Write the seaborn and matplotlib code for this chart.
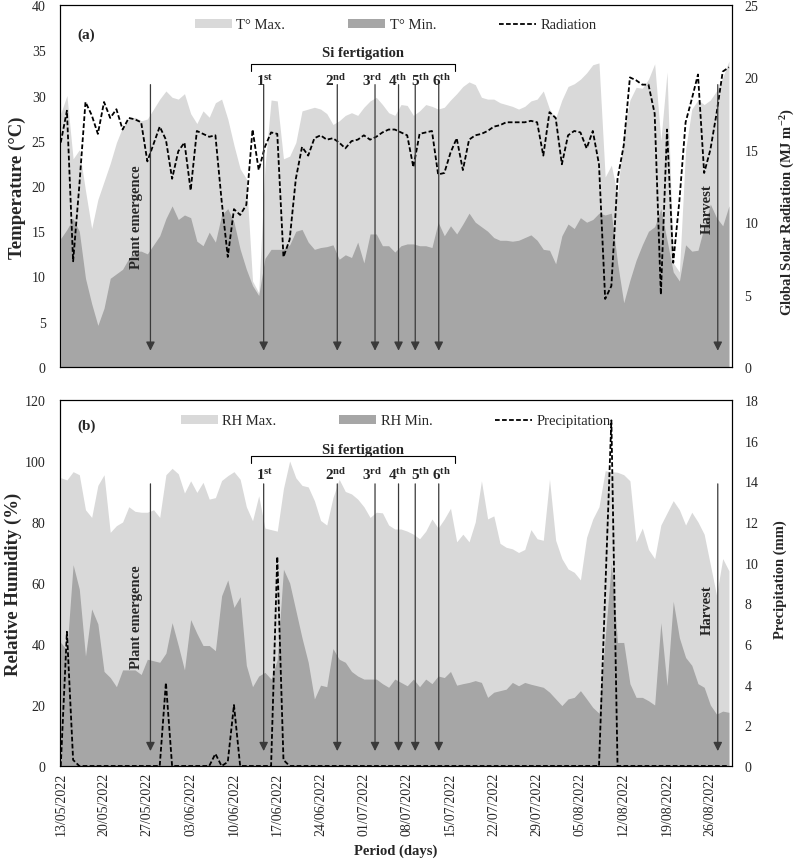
import numpy as np
import pandas as pd
import matplotlib
matplotlib.use("Agg")
import matplotlib.pyplot as plt
from matplotlib.patches import Patch
from matplotlib.lines import Line2D
import seaborn as sns

# ---------------- data (daily, 13/05/2022 -> 29/08/2022) ----------------
start_date = "2022-05-13"

t_max = [28.0, 30.0, 23.0, 24.0, 19.5, 15.3, 18.5, 20.5, 22.5, 24.8,
         26.5, 27.4, 27.6, 27.2, 27.4, 28.5, 29.6, 30.5, 29.8, 29.6,
         30.2, 28.0, 26.9, 28.3, 27.6, 29.2, 29.6, 27.4, 24.5, 21.9,
         20.8, 9.5, 8.2, 22.0, 29.5, 29.4, 23.0, 23.3, 24.8, 28.3,
         28.5, 28.7, 28.5, 28.0, 26.8, 27.2, 27.8, 28.1, 27.8, 28.7,
         29.4, 29.8, 29.0, 28.1, 27.8, 29.0, 28.9, 27.8, 28.3, 29.0,
         28.8, 28.5, 28.7, 29.5, 30.2, 31.0, 31.5, 31.2, 29.8, 29.6,
         29.6, 29.2, 29.0, 28.8, 28.5, 28.8, 29.4, 29.6, 30.5, 28.5,
         27.5, 29.5, 31.0, 31.3, 31.8, 32.5, 33.4, 33.6, 21.0, 22.3,
         19.0, 26.0, 29.5, 30.9, 30.8, 31.8, 33.5, 25.0, 32.6, 11.5,
         10.5, 24.0, 28.5, 29.5, 29.0, 29.5, 30.5, 32.0, 33.8]

t_min = [14.2, 15.2, 16.4, 15.0, 9.8, 7.0, 4.6, 6.5, 9.8, 10.3,
         10.8, 12.0, 12.8, 12.8, 12.5, 13.5, 14.5, 16.4, 17.8, 16.3,
         16.8, 16.5, 13.9, 13.4, 14.9, 13.8, 16.8, 17.5, 16.0, 13.0,
         10.8, 9.0, 7.9, 12.0, 13.0, 13.0, 13.0, 13.5, 15.0, 15.2,
         13.8, 13.0, 13.2, 13.3, 13.5, 11.9, 12.4, 12.1, 13.8, 11.5,
         14.7, 14.7, 13.4, 13.4, 12.7, 13.4, 13.6, 13.6, 13.4, 13.4,
         13.2, 16.0, 14.5, 15.6, 14.7, 15.8, 17.0, 16.0, 15.5, 15.0,
         14.3, 14.0, 14.0, 13.9, 14.0, 14.3, 14.6, 14.0, 13.0, 12.9,
         11.4, 14.5, 15.8, 15.3, 16.5, 16.0, 16.3, 17.0, 16.8, 17.0,
         11.5, 7.1, 9.6, 11.8, 13.5, 15.0, 15.5, 17.5, 14.0, 10.5,
         9.5, 13.5, 12.8, 12.9, 15.5, 18.0, 16.5, 15.6, 17.8]

radiation = [15.5, 17.7, 7.3, 12.5, 18.3, 17.4, 16.1, 18.3, 17.2, 17.8,
             16.4, 17.2, 17.1, 16.9, 14.2, 15.4, 16.6, 15.7, 13.0, 14.9,
             15.5, 12.2, 16.3, 16.1, 15.9, 16.0, 11.5, 7.6, 10.9, 10.5,
             11.2, 16.4, 13.6, 15.2, 16.2, 16.1, 7.6, 8.8, 13.0, 15.2,
             14.6, 15.8, 16.0, 15.7, 15.8, 15.5, 15.1, 15.6, 15.7, 16.0,
             15.7, 15.9, 16.2, 16.4, 16.4, 16.2, 16.0, 13.8, 16.1, 16.2,
             16.3, 13.3, 13.4, 14.8, 15.8, 13.6, 15.7, 16.0, 16.1, 16.3,
             16.6, 16.7, 16.9, 16.9, 16.9, 16.9, 17.0, 16.9, 14.6, 17.6,
             17.2, 14.0, 16.0, 16.3, 16.2, 15.1, 16.3, 14.0, 4.7, 5.6,
             13.0, 15.3, 20.0, 19.8, 19.5, 19.5, 17.5, 5.0, 16.4, 7.2,
             11.5, 16.9, 18.5, 20.2, 13.4, 15.0, 17.5, 20.4, 20.7]

rh_max = [94.5, 93.8, 96.5, 95.5, 84.0, 81.5, 92.0, 95.5, 76.6, 78.8,
          80.0, 85.0, 83.5, 83.2, 83.2, 84.0, 81.5, 95.5, 97.6, 95.8,
          89.5, 93.5, 89.7, 93.0, 87.5, 88.0, 93.6, 95.2, 96.5, 94.0,
          85.0, 80.4, 88.6, 78.0, 77.5, 77.0, 91.0, 100.0, 94.5, 92.0,
          91.5, 87.0, 80.5, 79.0, 88.0, 94.0, 90.0, 89.2, 87.5, 85.0,
          81.5, 83.2, 83.0, 79.0, 77.7, 77.7, 77.0, 76.0, 74.5, 77.0,
          81.0, 78.0, 81.0, 84.5, 73.5, 76.0, 73.5, 80.0, 93.5, 81.0,
          82.0, 73.0, 71.7, 71.2, 70.0, 71.0, 77.5, 74.5, 74.0, 94.0,
          74.0, 68.0, 64.6, 63.5, 61.0, 75.0, 81.0, 85.0, 96.8, 96.5,
          96.3, 95.5, 93.5, 73.5, 78.0, 71.0, 68.0, 79.0, 83.0, 87.0,
          84.0, 79.0, 83.2, 80.0, 76.0, 66.0, 56.0, 68.0, 64.0]

rh_min = [40.5, 38.0, 66.0, 58.0, 36.0, 51.5, 46.6, 31.0, 29.0, 26.0,
          31.5, 31.5, 31.5, 30.0, 35.0, 34.5, 34.0, 37.0, 47.0, 39.5,
          31.5, 48.0, 43.5, 39.5, 39.5, 37.8, 55.8, 61.0, 52.0, 55.5,
          33.0, 26.0, 29.5, 30.7, 28.5, 35.0, 64.5, 60.0, 51.0, 42.0,
          34.0, 22.0, 26.5, 26.0, 38.5, 35.0, 34.0, 31.0, 29.5, 28.5,
          28.5, 28.5, 27.0, 25.8, 28.5, 27.4, 26.3, 28.5, 26.0, 28.5,
          27.0, 29.5, 29.0, 31.0, 26.5, 27.0, 27.4, 28.0, 27.4, 22.5,
          24.2, 24.7, 25.2, 27.4, 26.3, 27.4, 26.8, 26.3, 25.8, 24.2,
          22.0, 19.8, 22.0, 22.5, 24.7, 22.0, 19.2, 17.3, 42.0, 66.5,
          40.5, 40.5, 27.0, 22.5, 22.5, 21.4, 20.0, 47.0, 26.3, 54.0,
          42.0, 35.6, 33.0, 27.0, 25.8, 20.0, 17.0, 18.0, 17.6]

precipitation = [0, 6.6, 0.3, 0, 0, 0, 0, 0, 0, 0,
                 0, 0, 0, 0, 0, 0, 0, 4.1, 0, 0,
                 0, 0, 0, 0, 0, 0.6, 0, 0.2, 3.0, 0,
                 0, 0, 0, 0, 0, 10.3, 0.3, 0, 0, 0,
                 0, 0, 0, 0, 0, 0, 0, 0, 0, 0,
                 0, 0, 0, 0, 0, 0, 0, 0, 0, 0,
                 0, 0, 0, 0, 0, 0, 0, 0, 0, 0,
                 0, 0, 0, 0, 0, 0, 0, 0, 0, 0,
                 0, 0, 0, 0, 0, 0, 0, 0, 8.5, 17.0,
                 0, 0, 0, 0, 0, 0, 0, 0, 0, 0,
                 0, 0, 0, 0, 0, 0, 0, 0, 0]

tick_labels = ["13/05/2022", "20/05/2022", "27/05/2022", "03/06/2022",
               "10/06/2022", "17/06/2022", "24/06/2022", "01/07/2022",
               "08/07/2022", "15/07/2022", "22/07/2022", "29/07/2022",
               "05/08/2022", "12/08/2022", "19/08/2022", "26/08/2022"]

# events (day index from 13/05/2022)
emergence_day = 14.5
fertigation_days = [32.8, 44.7, 50.8, 54.6, 57.3, 61.1]
fertigation_labels = ["1", "2", "3", "4", "5", "6"]
fertigation_sups = ["st", "nd", "rd", "th", "th", "th"]
fertigation_label_x = [33.0, 44.5, 50.3, 54.4, 58.1, 61.5]
harvest_day = 106.2

n = len(t_max)
df = pd.DataFrame({
    "day": np.arange(n),
    "date": pd.date_range(start_date, periods=n, freq="D"),
    "tmax": t_max, "tmin": t_min, "rad": radiation,
    "rhmax": rh_max, "rhmin": rh_min, "prec": precipitation,
})

# ---------------- style ----------------
sns.set_style("white")
plt.rcParams["font.family"] = ["Liberation Serif", "DejaVu Serif"]
plt.rcParams["mathtext.fontset"] = "custom"
plt.rcParams["mathtext.rm"] = "Liberation Serif"
plt.rcParams["mathtext.bf"] = "Liberation Serif:bold"
plt.rcParams["mathtext.it"] = "Liberation Serif:italic"

LIGHT = "#d9d9d9"
DARK = "#a6a6a6"
ARROW = "#3a3a3a"
DASH = (0, (2.6, 1.3))

W, H = 796, 862
fig = plt.figure(figsize=(W / 100, H / 100), dpi=100)

XL, XR = 59.5, 732.0
XLIM = (-0.2, 108.5)


def make_axes(top, bottom):
    return fig.add_axes([XL / W, 1 - bottom / H, (XR - XL) / W, (bottom - top) / H])


def style_axes(ax, ax2):
    for a in (ax, ax2):
        for s in a.spines.values():
            s.set_visible(True)
            s.set_color("black")
            s.set_linewidth(0.8)
    ax.tick_params(axis="y", length=0, labelsize=10, pad=10)
    ax2.tick_params(axis="y", length=0, labelsize=10, pad=9)
    ax.tick_params(axis="x", length=0, labelsize=10, pad=4)
    ax2.set_xlabel("")
    ax2.set_ylabel("")
    ax.set_xlabel("")
    ax.set_ylabel("")


def panel(ax, hi, lo, line, ymax_l, ystep_l, ymax_r, ystep_r, labels,
          tag, tag_y, si_y, brk_top, brk_bot, ord_y, arr_top, arr_bot,
          pe_y, hv_y, legend_y):
    ax.fill_between(df["day"], df[hi], color=LIGHT, lw=0, zorder=1)
    ax.fill_between(df["day"], df[lo], color=DARK, lw=0, zorder=2)
    ax.set_xlim(*XLIM)
    ax.set_ylim(0, ymax_l)
    ax.set_yticks(np.arange(0, ymax_l + 0.1, ystep_l))
    ax.set_xticks(np.arange(0, 106, 7))

    ax2 = ax.twinx()
    sns.lineplot(data=df, x="day", y=line, ax=ax2, color="black",
                 linewidth=1.3, legend=False)
    for l in ax2.lines:
        l.set_linestyle(DASH)
    ax2.set_ylim(0, ymax_r)
    ax2.set_yticks(np.arange(0, ymax_r + 0.1, ystep_r))
    style_axes(ax, ax2)

    T = ax.transData
    # arrows
    xs = [emergence_day] + fertigation_days + [harvest_day]
    for x in xs:
        ax2.annotate("", xy=(x, arr_bot), xytext=(x, arr_top),
                     xycoords=T, textcoords=T,
                     arrowprops=dict(arrowstyle="-|>", color=ARROW, lw=0.9,
                                     mutation_scale=13, shrinkA=0, shrinkB=0),
                     zorder=6)
    # ordinal labels
    for x, num, sup in zip(fertigation_label_x, fertigation_labels, fertigation_sups):
        ax2.text(x, ord_y, r"$\mathbf{" + num + "^{" + sup + "}}$", transform=T,
                 ha="center", va="center", fontsize=11, zorder=7)
    # bracket
    x0, x1 = 30.7, 63.8
    ax2.plot([x0, x0, x1, x1], [brk_bot, brk_top, brk_top, brk_bot], transform=T,
             color="black", lw=0.8, zorder=7)
    ax2.text(48.8, si_y, "Si fertigation", transform=T, ha="center", va="center",
             fontsize=10.5, fontweight="bold", zorder=7)
    ax2.text(12.3, pe_y, "Plant emergence", transform=T, rotation=90,
             ha="center", va="center", fontsize=10.5, fontweight="bold", zorder=7)
    ax2.text(104.5, hv_y, "Harvest", transform=T, rotation=90,
             ha="center", va="center", fontsize=10.5, fontweight="bold", zorder=7)
    ax2.text(4.1, tag_y, tag, transform=T, ha="center", va="center",
             fontsize=11, fontweight="bold", zorder=7)

    handles = [Patch(facecolor=LIGHT, edgecolor="none"),
               Patch(facecolor=DARK, edgecolor="none"),
               Line2D([], [], color="black", lw=1.3, linestyle=DASH)]
    ax2.legend(handles, labels, loc="center", bbox_to_anchor=(0.5, legend_y),
               ncol=3, frameon=False, fontsize=10.5, handlelength=2.55,
               handleheight=0.55, handletextpad=0.3, columnspacing=4.3,
               borderpad=0.1)
    ax.set_xlim(*XLIM)
    ax2.set_xlim(*XLIM)
    ax2.set_ylim(0, ymax_r)
    return ax2


axA = make_axes(6, 368)
axA2 = panel(axA, "tmax", "tmin", "rad", 40, 5, 25, 5,
             ["T° Max.", "T° Min.", "Radiation"],
             "(a)", 36.8, 34.8, 33.5, 32.7, 31.7, 31.2, 1.8, 16.7, 17.6, 0.945)
axA.set_xticklabels([])

axB = make_axes(401, 767)
axB2 = panel(axB, "rhmax", "rhmin", "prec", 120, 20, 18, 2,
             ["RH Max.", "RH Min.", "Precipitation"],
             "(b)", 111.6, 103.9, 101.7, 99.5, 95.7, 92.5, 4.9, 49.2, 51.5, 0.943)
axB.set_xticklabels(tick_labels, rotation=90)

# axis titles
fig.text(17 / W, 1 - 188 / H, "Temperature (°C)", rotation=90, ha="center",
         va="center", fontsize=13.5, fontweight="bold")
fig.text(13 / W, 1 - 584 / H, "Relative Humidity (%)", rotation=90, ha="center",
         va="center", fontsize=13.5, fontweight="bold")
fig.text(788 / W, 1 - 212 / H, r"Global Solar Radiation (MJ m$^{\mathbf{-2}}$)",
         rotation=90, ha="center", va="center", fontsize=10.5, fontweight="bold")
fig.text(780 / W, 1 - 580 / H, "Precipitation (mm)", rotation=90, ha="center",
         va="center", fontsize=10.5, fontweight="bold")
fig.text(396 / W, 1 - 851 / H, "Period (days)", ha="center", va="center",
         fontsize=10.5, fontweight="bold")

fig.savefig("out.png", dpi=100)
